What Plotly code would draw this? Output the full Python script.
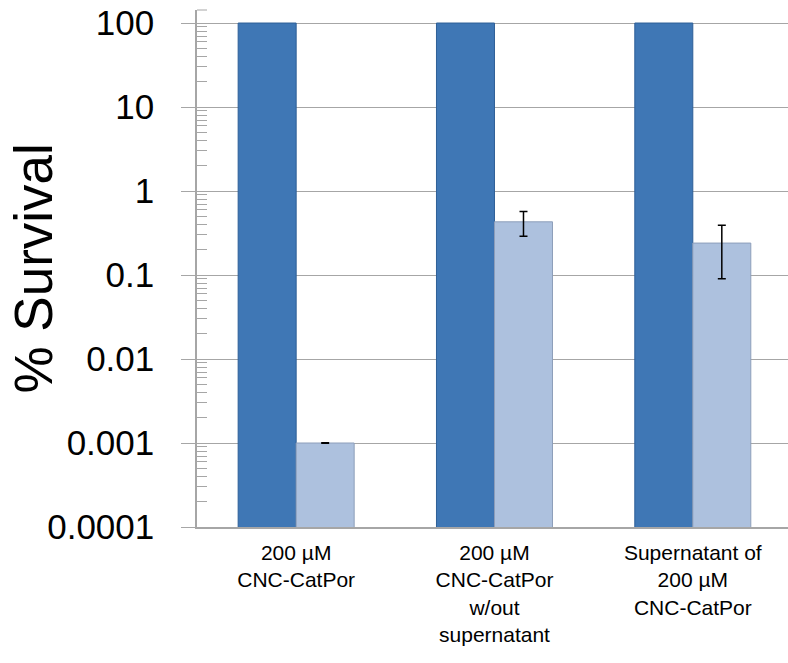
import plotly.graph_objects as go

# Treatment groups and survival data (% of cells surviving)
categories = [
    "200 µM<br>CNC-CatPor",
    "200 µM<br>CNC-CatPor<br>w/out<br>supernatant",
    "Supernatant of<br>200 µM<br>CNC-CatPor",
]
control_survival = [100, 100, 100]
treated_survival = [0.001, 0.43, 0.24]
treated_error = [0.00001, 0.14, 0.15]

y_tick_values = [0.0001, 0.001, 0.01, 0.1, 1, 10, 100]
y_tick_labels = ["0.0001", "0.001", "0.01", "0.1", "1", "10", "100"]
minor_tick_values = [k * v for v in y_tick_values[:-1] for k in range(2, 10)]

grid_color = "#a6a6a6"
font_family = "Liberation Sans, Arial, sans-serif"

fig = go.Figure()

fig.add_trace(go.Bar(
    x=categories,
    y=control_survival,
    marker=dict(color="#3f77b5", line=dict(color="#2e5f97", width=1)),
    showlegend=False,
))

fig.add_trace(go.Bar(
    x=categories,
    y=treated_survival,
    marker=dict(color="#adc1de", line=dict(color="#8d9eba", width=1)),
    error_y=dict(type="data", array=treated_error, visible=True,
                 color="black", thickness=1.5, width=4),
    showlegend=False,
))

fig.update_layout(
    width=788,
    height=663,
    margin=dict(l=197, r=0, t=10, b=136),
    paper_bgcolor="white",
    plot_bgcolor="white",
    barmode="group",
    bargap=0.415,
    bargroupgap=0,
    font=dict(family=font_family, color="black"),
    xaxis=dict(
        range=[-0.5, 2.48],
        showline=True,
        linecolor=grid_color,
        linewidth=1.5,
        ticks="",
        tickfont=dict(size=21, family=font_family),
        ticklabelstandoff=6,
        showgrid=False,
        zeroline=False,
    ),
    yaxis=dict(
        type="log",
        range=[-4, 2.155],
        tickmode="array",
        tickvals=y_tick_values,
        ticktext=y_tick_labels,
        ticks="outside",
        ticklen=14,
        tickcolor=grid_color,
        tickwidth=1,
        tickfont=dict(size=35, family=font_family),
        ticklabelstandoff=20,
        showgrid=True,
        gridcolor=grid_color,
        gridwidth=1,
        showline=True,
        linecolor=grid_color,
        linewidth=1.5,
        zeroline=False,
        minor=dict(
            tickmode="array",
            tickvals=minor_tick_values,
            ticks="inside",
            ticklen=10,
            tickcolor=grid_color,
            tickwidth=1,
            showgrid=False,
        ),
    ),
    annotations=[
        dict(text="% Survival", textangle=-90, showarrow=False,
             xref="paper", yref="paper", x=0, y=0.5,
             xanchor="center", yanchor="middle", xshift=-164,
             font=dict(size=53, family=font_family, color="black")),
    ],
    shapes=[
        dict(type="line", xref="paper", yref="paper", xsizemode="pixel",
             xanchor=0, x0=0, x1=10, y0=1, y1=1,
             line=dict(color=grid_color, width=1)),
    ],
)

fig.write_html("out.html")
